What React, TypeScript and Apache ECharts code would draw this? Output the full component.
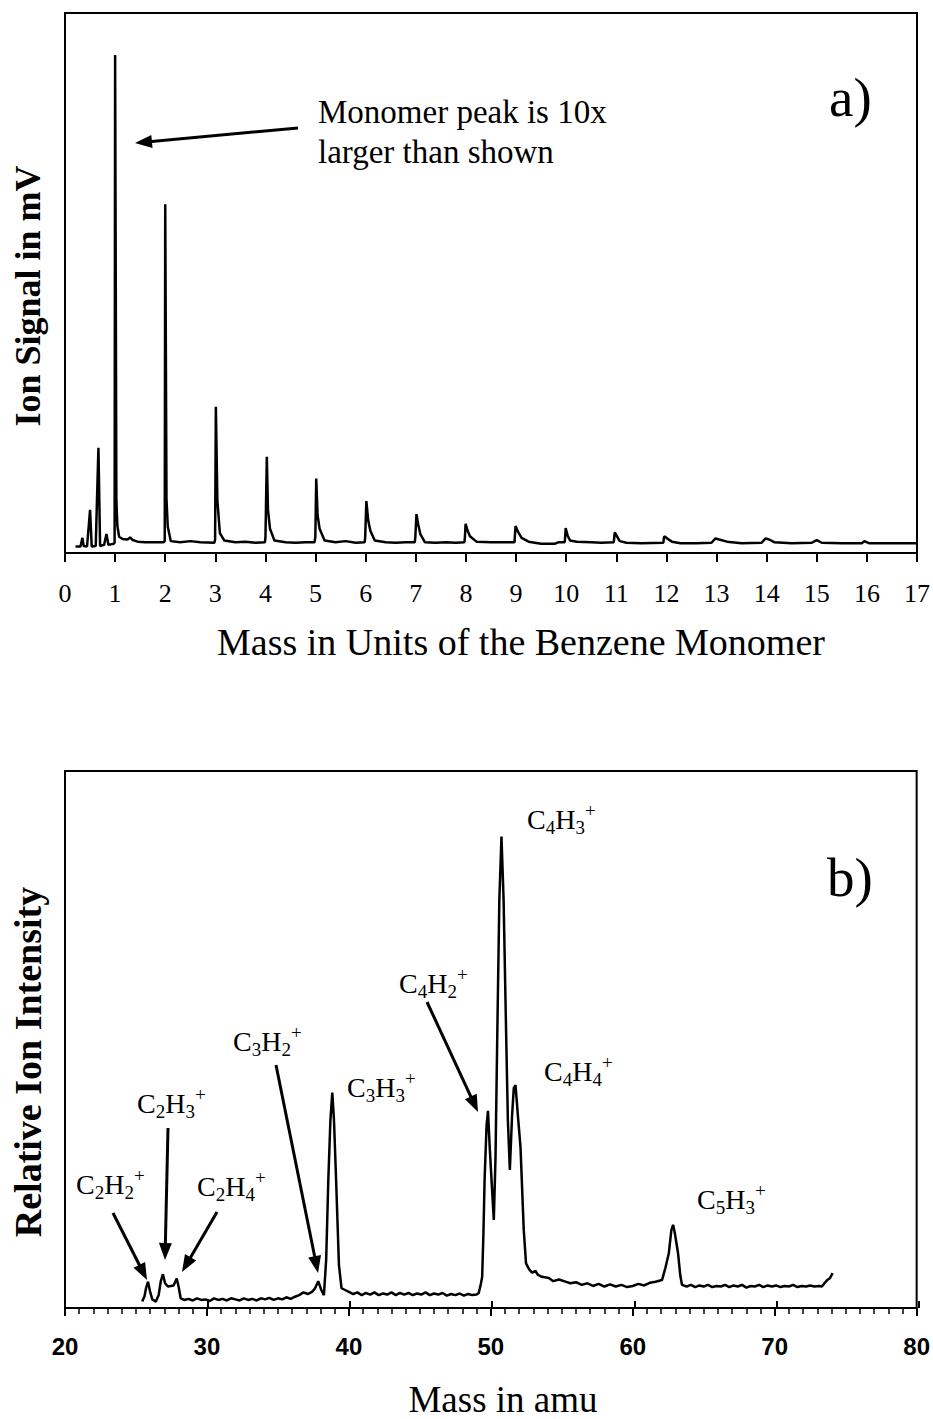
import React, { useEffect, useRef } from "react";
import * as echarts from "echarts";

// ---------- Panel a) : cluster mass spectrum (x in monomer units, y in arbitrary mV scale 0..100)
const clusterLowMass: [number, number][] = [
  [0.21, 1.2], [0.31, 1.2], [0.347, 2.8], [0.373, 1.3], [0.44, 1.2], [0.5, 8.0], [0.533, 1.2],
  [0.613, 1.3], [0.667, 19.5], [0.7, 1.3], [0.78, 1.5], [0.827, 3.5], [0.867, 1.5], [0.97, 1.7],
];
const clusterMonomerToPentamer: [number, number][] = [
  [0.99, 1.9], [1.0, 92.2], [1.025, 10], [1.045, 5], [1.08, 3.0], [1.15, 2.6], [1.25, 2.5], [1.3, 2.9],
  [1.35, 2.4], [1.45, 2.1], [1.6, 2.0], [1.8, 2.0], [1.97, 2.0],
  [1.99, 2.2], [2.0, 64.6], [2.025, 10], [2.05, 4.9], [2.11, 2.2], [2.3, 2.0], [2.5, 2.2], [2.7, 2.0], [2.98, 1.9],
  [2.995, 2.5], [3.01, 27.1], [3.04, 9.8], [3.09, 3.7], [3.18, 2.3], [3.4, 2.0], [3.6, 2.1], [3.8, 1.9], [3.99, 2.0],
  [4.0, 3.0], [4.027, 17.8], [4.05, 8], [4.09, 4.5], [4.18, 2.3], [4.4, 2.0], [4.6, 1.9], [4.8, 2.0], [4.98, 2.0],
  [4.995, 3.0], [5.013, 13.8], [5.04, 7], [5.08, 4.5], [5.18, 2.3], [5.4, 2.0], [5.6, 2.2], [5.8, 1.9], [5.98, 2.0],
];
const clusterHexamerUp: [number, number][] = [
  [5.99, 3.0], [6.013, 9.6], [6.05, 6], [6.093, 4.1], [6.18, 2.3], [6.4, 2.0], [6.6, 1.9], [6.8, 2.0], [6.98, 2.0],
  [6.99, 3.0], [7.013, 7.2], [7.05, 5.2], [7.09, 3.5], [7.18, 2.0], [7.4, 1.9], [7.6, 2.0], [7.8, 1.9], [7.97, 2.0],
  [7.98, 3.0], [7.993, 5.4], [8.03, 4.2], [8.08, 3.1], [8.21, 2.1], [8.5, 2.0], [8.8, 2.0], [8.97, 2.0],
  [8.975, 3.0], [8.99, 5.0], [9.04, 3.9], [9.11, 2.8], [9.25, 2.1], [9.5, 1.7], [9.77, 1.7], [9.85, 2.0], [9.97, 2.0],
  [9.98, 3.0], [9.99, 4.6], [10.03, 3.2], [10.08, 2.3], [10.21, 2.1], [10.5, 2.0], [10.7, 1.9], [10.95, 2.0],
  [10.96, 3.0], [10.97, 3.8], [11.02, 3.0], [11.07, 2.2], [11.2, 1.9], [11.5, 1.8], [11.94, 1.9],
  [11.95, 2.8], [11.96, 3.1], [12.03, 2.6], [12.11, 2.1], [12.28, 1.8], [12.6, 1.8], [12.9, 1.9],
  [12.98, 2.7], [13.05, 2.5], [13.21, 2.1], [13.5, 1.8], [13.9, 1.9],
  [13.98, 2.7], [14.05, 2.5], [14.15, 2.0], [14.5, 1.8], [14.9, 1.9],
  [15.0, 2.4], [15.1, 1.9], [15.5, 1.8], [15.9, 1.8],
  [15.95, 2.2], [16.05, 1.8], [17.0, 1.8],
];

// ---------- Panel b) : fragment mass spectrum (x in amu, y relative 0..100)
const fragC2: [number, number][] = [
  [25.44, 1.2], [25.6, 2.2], [25.72, 3.8], [25.85, 4.9], [26.0, 3.0], [26.15, 1.6], [26.4, 1.2], [26.6, 2.4],
  [26.75, 5.0], [26.9, 6.3], [27.05, 4.6], [27.25, 4.0], [27.45, 4.1], [27.65, 4.2], [27.87, 5.5], [28.0, 4.0],
  [28.15, 1.8], [28.4, 1.5], [28.7, 1.7], [29.0, 1.4], [29.3, 1.8], [29.6, 1.5], [29.9, 1.6], [30.2, 1.3],
  [30.5, 1.8], [30.8, 1.5], [31.1, 1.7], [31.4, 1.4], [31.7, 1.8], [32.0, 1.6], [32.3, 1.4], [32.6, 1.8],
  [32.9, 1.5], [33.2, 1.7], [33.5, 1.4], [33.8, 1.8], [34.1, 1.6], [34.4, 1.9], [34.7, 1.5], [35.0, 1.8],
  [35.3, 1.6], [35.6, 2.0], [35.9, 1.7], [36.2, 2.1], [36.5, 2.4], [36.8, 2.9], [37.1, 2.6], [37.4, 3.0],
];
const fragC3: [number, number][] = [
  [37.6, 3.6], [37.84, 5.0], [38.05, 3.4], [38.24, 2.4], [38.4, 9], [38.55, 23.8], [38.7, 35], [38.83, 40.1],
  [38.95, 35], [39.1, 23.8], [39.3, 8], [39.48, 3.7], [39.7, 3.4], [40.0, 3.0], [40.3, 2.6], [40.6, 2.9],
  [40.9, 2.4], [41.2, 2.8], [41.5, 2.5], [41.8, 2.9], [42.1, 2.4], [42.4, 2.7], [42.7, 2.5], [43.0, 2.9],
  [43.3, 2.4], [43.6, 2.8], [43.9, 2.5], [44.2, 2.8], [44.5, 2.4], [44.8, 2.7], [45.1, 2.5], [45.4, 2.9],
  [45.7, 2.4], [46.0, 2.7], [46.3, 2.5], [46.6, 2.8], [46.9, 2.3], [47.2, 2.6], [47.5, 2.4], [47.8, 2.7],
  [48.1, 2.3], [48.4, 2.6], [48.7, 2.4], [49.0, 2.5], [49.15, 2.8],
];
const fragC4: [number, number][] = [
  [49.3, 4.5], [49.39, 5.8], [49.48, 14], [49.56, 23.8], [49.7, 34], [49.8, 36.7], [49.92, 30], [50.05, 23.8],
  [50.21, 16.4], [50.33, 28], [50.45, 50], [50.6, 76], [50.75, 87.8], [50.9, 76], [51.05, 55], [51.2, 35],
  [51.34, 25.7], [51.5, 36], [51.62, 41], [51.74, 41.5], [51.9, 36], [52.09, 30], [52.32, 14.5], [52.48, 8.3],
  [52.7, 7.2], [52.9, 6.6], [53.15, 6.9], [53.3, 6.2], [53.6, 5.8], [54.08, 5.6], [54.4, 5.0], [54.8, 5.3],
  [55.26, 4.9], [55.6, 4.6], [56.0, 4.8], [56.4, 4.3], [56.8, 4.6], [57.2, 4.1], [57.6, 4.5], [58.0, 4.0],
  [58.4, 4.4], [58.8, 4.0], [59.2, 4.3], [59.6, 3.9], [60.0, 4.1], [60.4, 4.5], [60.8, 4.2], [61.2, 4.7],
  [61.6, 4.9], [62.06, 5.2],
];
const fragC5: [number, number][] = [
  [62.3, 7.5], [62.54, 10.2], [62.72, 14.5], [62.84, 15.5], [62.96, 14], [63.19, 10.2], [63.35, 6], [63.47, 4.3],
  [63.8, 4.0], [64.1, 4.3], [64.4, 3.9], [64.7, 4.2], [65.0, 4.0], [65.3, 4.3], [65.6, 3.9], [65.9, 4.1],
  [66.2, 4.0], [66.5, 4.3], [66.8, 3.9], [67.1, 4.2], [67.4, 4.0], [67.7, 4.3], [68.0, 3.8], [68.3, 4.1],
  [68.6, 4.0], [68.9, 4.3], [69.2, 3.9], [69.5, 4.2], [69.8, 4.0], [70.1, 4.2], [70.4, 3.9], [70.7, 4.1],
  [71.0, 4.0], [71.3, 4.3], [71.6, 3.9], [71.9, 4.1], [72.2, 4.0], [72.5, 4.2], [72.8, 4.0], [73.1, 4.1],
  [73.33, 4.0], [73.5, 4.6], [73.7, 5.2], [73.9, 5.6], [74.08, 6.5],
];

const topTitle = "Mass in Units of the Benzene Monomer";
const topYTitle = "Ion Signal in mV";
const bottomTitle = "Mass in amu";
const bottomYTitle = "Relative Ion Intensity";
const noteLines = ["Monomer peak is 10x", "larger than shown"];

// fragment labels in rich-text form
const fragLabels = [
  "C{s|2}H{s|2}{p|+}", "C{s|2}H{s|3}{p|+}", "C{s|2}H{s|4}{p|+}", "C{s|3}H{s|2}{p|+}", "C{s|3}H{s|3}{p|+}",
  "C{s|4}H{s|2}{p|+}", "C{s|4}H{s|3}{p|+}", "C{s|4}H{s|4}{p|+}", "C{s|5}H{s|3}{p|+}",
];
// label anchor positions (left, middle) in px
const fragLabelPos: [number, number][] = [
  [76, 1184], [137, 1103], [197, 1186], [233, 1041], [347, 1087], [399, 983], [527, 819], [544, 1071], [697, 1199],
];
// arrows (from -> to) in px
const arrowPos: [number, number, number, number][] = [
  [298, 128, 135, 143],
  [113, 1213, 147, 1280],
  [168, 1128, 165, 1260],
  [217, 1212, 182, 1272],
  [276, 1065, 318, 1273],
  [427, 1002, 478, 1112],
];

const SERIF = "'Liberation Serif', 'Times New Roman', serif";
const SANS = "'Liberation Sans', Arial, sans-serif";

function arrow(x1: number, y1: number, x2: number, y2: number) {
  const head = 17, half = 6.5;
  const dx = x2 - x1, dy = y2 - y1;
  const len = Math.hypot(dx, dy);
  const ux = dx / len, uy = dy / len;
  const bx = x2 - ux * head, by = y2 - uy * head;
  const px = -uy, py = ux;
  return [
    { type: "line", shape: { x1, y1, x2: bx + ux * 3, y2: by + uy * 3 }, style: { stroke: "#000", lineWidth: 3 } },
    {
      type: "polygon",
      shape: { points: [[x2, y2], [bx + px * half, by + py * half], [bx - px * half, by - py * half]] },
      style: { fill: "#000" },
    },
  ];
}

export default function App() {
  const ref = useRef<HTMLDivElement>(null);
  useEffect(() => {
    const chart = echarts.init(ref.current!, null, { renderer: "svg" });
    const topTrace = [...clusterLowMass, ...clusterMonomerToPentamer, ...clusterHexamerUp];
    const bottomTrace = [...fragC2, ...fragC3, ...fragC4, ...fragC5];
    const black = { color: "#000" };

    const graphics: any[] = [];
    graphics.push({
      type: "text", x: 28, y: 296, rotation: Math.PI / 2,
      style: { text: topYTitle, font: `bold 36px ${SERIF}`, fill: "#000", align: "center", verticalAlign: "middle" },
    });
    graphics.push({
      type: "text", x: 28, y: 1062, rotation: Math.PI / 2,
      style: { text: bottomYTitle, font: `bold 38px ${SERIF}`, fill: "#000", align: "center", verticalAlign: "middle" },
    });
    graphics.push({
      type: "text", x: 521, y: 642,
      style: { text: topTitle, font: `38px ${SERIF}`, fill: "#000", align: "center", verticalAlign: "middle" },
    });
    graphics.push({
      type: "text", x: 503, y: 1399,
      style: { text: bottomTitle, font: `37px ${SERIF}`, fill: "#000", align: "center", verticalAlign: "middle" },
    });
    noteLines.forEach((t, i) => {
      graphics.push({
        type: "text", x: 318, y: 112 + i * 40,
        style: { text: t, font: `33px ${SERIF}`, fill: "#000", align: "left", verticalAlign: "middle" },
      });
    });
    graphics.push({
      type: "text", x: 829, y: 97,
      style: { text: "a)", font: `55px ${SERIF}`, fill: "#000", align: "left", verticalAlign: "middle" },
    });
    graphics.push({
      type: "text", x: 827, y: 877,
      style: { text: "b)", font: `55px ${SERIF}`, fill: "#000", align: "left", verticalAlign: "middle" },
    });
    fragLabels.forEach((t, i) => {
      const [x, y] = fragLabelPos[i];
      graphics.push({
        type: "text", x, y,
        style: {
          text: t, fontSize: 28, fontFamily: SERIF, fill: "#000", lineHeight: 36,
          align: "left", verticalAlign: "middle",
          rich: {
            s: { fontSize: 19, lineHeight: 19, fontFamily: SERIF, fill: "#000", verticalAlign: "bottom" },
            p: { fontSize: 19, lineHeight: 19, fontFamily: SERIF, fill: "#000", verticalAlign: "top" },
          },
        },
      });
    });
    arrowPos.forEach(([a, b, c, d]) => graphics.push(...arrow(a, b, c, d)));

    chart.setOption({
      animation: false,
      backgroundColor: "#fff",
      grid: [
        { left: 65, right: 14, top: 13, height: 540, show: true, borderColor: "#000", borderWidth: 2 },
        { left: 65, right: 14, top: 771, height: 537, show: true, borderColor: "#000", borderWidth: 2 },
        { left: 65, right: 14, top: 771, height: 537, show: false },
      ],
      xAxis: [
        {
          gridIndex: 0, type: "value", min: 0, max: 17, interval: 1,
          axisLine: { show: true, lineStyle: { ...black, width: 2 } },
          axisTick: { show: true, inside: false, length: 9, lineStyle: { ...black, width: 2 } },
          axisLabel: { color: "#000", fontFamily: SERIF, fontSize: 26, margin: 27 },
          splitLine: { show: false },
        },
        {
          gridIndex: 1, type: "value", min: 20, max: 80, interval: 10,
          axisLine: { show: true, lineStyle: { ...black, width: 2 } },
          axisTick: { show: true, inside: false, length: 8, lineStyle: { ...black, width: 2 } },
          minorTick: { show: true, splitNumber: 10, length: 6, lineStyle: { ...black, width: 1.5 } },
          axisLabel: { color: "#000", fontFamily: SANS, fontWeight: "bold", fontSize: 24, margin: 26 },
          splitLine: { show: false },
          minorSplitLine: { show: false },
        },
        {
          gridIndex: 2, type: "value", min: 20, max: 80, interval: 10,
          axisLine: { show: false },
          axisTick: { show: true, inside: true, length: 7, lineStyle: { ...black, width: 2 } },
          axisLabel: { show: false },
          splitLine: { show: false },
        },
      ],
      yAxis: [
        { gridIndex: 0, type: "value", min: 0, max: 100, show: false, splitLine: { show: false } },
        { gridIndex: 1, type: "value", min: 0, max: 100, show: false, splitLine: { show: false } },
        { gridIndex: 2, type: "value", min: 0, max: 100, show: false, splitLine: { show: false } },
      ],
      series: [
        {
          type: "line", xAxisIndex: 0, yAxisIndex: 0, data: topTrace, showSymbol: false, silent: true,
          lineStyle: { color: "#000", width: 2.5 },
        },
        {
          type: "line", xAxisIndex: 1, yAxisIndex: 1, data: bottomTrace, showSymbol: false, silent: true,
          lineStyle: { color: "#000", width: 2.5 },
        },
      ],
      graphic: graphics,
    });
    return () => chart.dispose();
  }, []);
  return (
    <div
      ref={ref}
      style={{ position: "absolute", left: 0, top: 0, width: 933, height: 1419, background: "#fff" }}
    />
  );
}
